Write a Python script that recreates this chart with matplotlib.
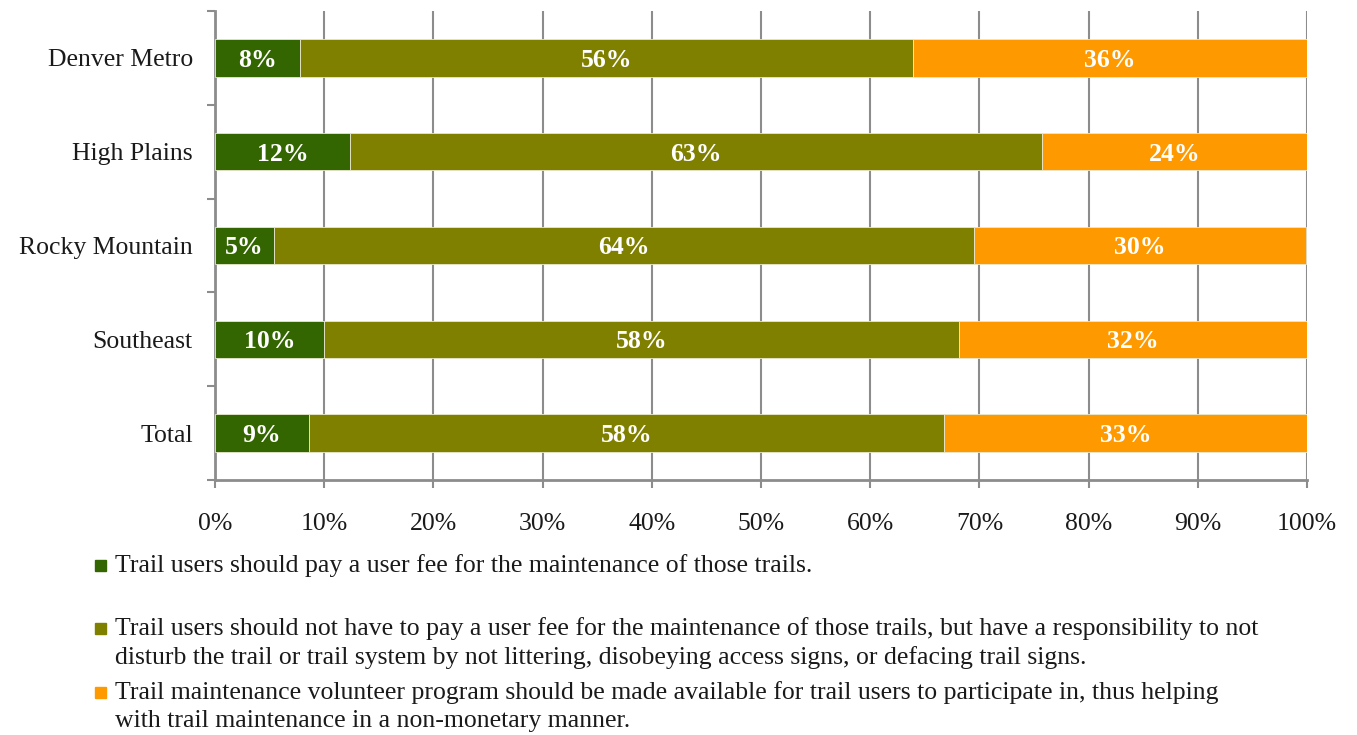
import matplotlib
matplotlib.use("Agg")
import matplotlib.pyplot as plt
from matplotlib.patches import Rectangle
import numpy as np

plt.rcParams['font.family'] = ['Liberation Serif', 'DejaVu Serif']

categories = ["Denver Metro", "High Plains", "Rocky Mountain", "Southeast", "Total"]
pay_fee = [7.8, 12.4, 5.4, 10.0, 8.6]
no_fee_responsibility = [56.1, 63.3, 64.1, 58.1, 58.2]
volunteer = [36.1, 24.3, 30.4, 31.9, 33.2]
series_labels = [
    "Trail users should pay a user fee for the maintenance of those trails.",
    "Trail users should not have to pay a user fee for the maintenance of those trails, but have a responsibility to not\ndisturb the trail or trail system by not littering, disobeying access signs, or defacing trail signs.",
    "Trail maintenance volunteer program should be made available for trail users to participate in, thus helping\nwith trail maintenance in a non-monetary manner.",
]
colors = ["#336600", "#808000", "#FF9900"]
xticks = list(range(0, 101, 10))
xtick_labels = [f"{v}%" for v in xticks]

FS = 18.5
W, H = 1357, 735
fig = plt.figure(figsize=(W / 100, H / 100), dpi=100)
ax = fig.add_axes([215 / W, 1 - 480 / H, (1307 - 215) / W, (480 - 11) / H])

y = np.arange(len(categories))
left = np.zeros(len(categories))
for vals, c in zip([pay_fee, no_fee_responsibility, volunteer], colors):
    vals = np.array(vals)
    ax.barh(y, vals, left=left, height=0.4, color=c, edgecolor="#e8e8d0", linewidth=0.6, zorder=3)
    for yi, l, v in zip(y, left, vals):
        ax.text(l + v / 2, yi, f"{round(v):d}%", ha="center", va="center_baseline",
                color="white", fontsize=FS, fontweight="bold", zorder=4)
    left = left + vals

ax.set_xlim(0, 100)
ax.set_ylim(len(categories) - 0.5, -0.5)
ax.set_xticks(xticks)
ax.set_xticklabels(xtick_labels, fontsize=FS, color="#1a1a1a")
ax.set_yticks(y)
ax.set_yticklabels(categories, fontsize=FS, color="#1a1a1a", va="center_baseline")
ax.tick_params(axis="y", length=0, pad=16)
ax.set_yticks(np.arange(-0.5, len(categories), 1), minor=True)
ax.tick_params(axis="y", which="minor", length=6, color="#8c8c8c", width=1.5)
ax.tick_params(axis="x", length=6, color="#8c8c8c", width=1.5, pad=18)
ax.grid(axis="x", color="#8c8c8c", linewidth=1.5, zorder=0)
for s in ["top", "right"]:
    ax.spines[s].set_visible(False)
for s in ["left", "bottom"]:
    ax.spines[s].set_color("#8c8c8c")
    ax.spines[s].set_linewidth(2)

# legend
legend_rows = [565, 628, 692]
for lbl, c, ry in zip(series_labels, colors, legend_rows):
    sz = 11
    fig.patches.append(Rectangle((95 / W, 1 - (ry + 6) / H), sz / W, sz / H,
                                 transform=fig.transFigure, color=c, figure=fig))
    fig.text(115 / W, 1 - (ry - 11) / H, lbl, fontsize=FS, va="top", ha="left",
             color="#1a1a1a", linespacing=1.33)

fig.savefig("out.png", dpi=100)
